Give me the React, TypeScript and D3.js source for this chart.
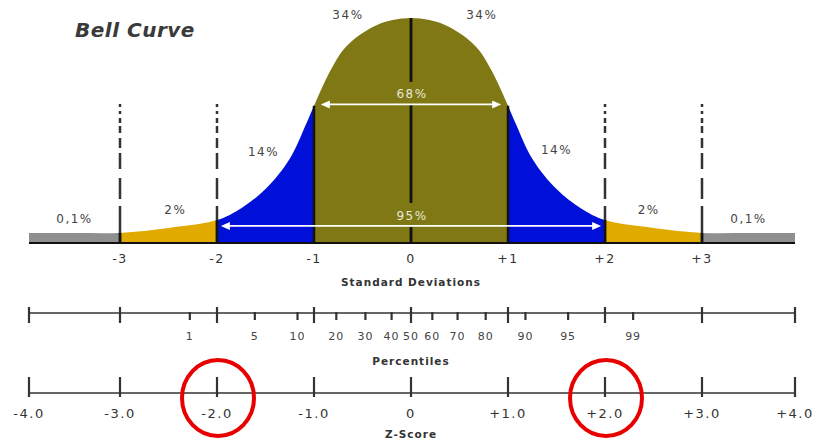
import React from "react";
import * as d3 from "d3";

// Bell curve outline (z, height as % of peak)
const curveZ = [-4, -3.5, -3, -2.5, -2, -1.75, -1.5, -1.25, -1.08, -1, -0.89, -0.8, -0.7, -0.53, -0.35, -0.19, 0, 0.19, 0.35, 0.53, 0.7, 0.8, 0.89, 1, 1.08, 1.25, 1.5, 1.75, 2, 2.5, 3, 3.5, 4];
const curveH = [4.4, 4.4, 4.5, 6.7, 10.2, 15.5, 24, 37.5, 53, 61, 71.6, 79, 85.8, 92.4, 96.9, 99.1, 100, 99.1, 96.9, 92.4, 85.8, 79, 71.6, 61, 53, 37.5, 24, 15.5, 10.2, 6.7, 4.5, 4.4, 4.4];

// Regions
const regionFrom = [-4, -3, -2, -1, 1, 2, 3];
const regionTo = [-3, -2, -1, 1, 2, 3, 4];
const regionColor = ["#8f8f8f", "#e0aa00", "#0010d8", "#7f7814", "#0010d8", "#e0aa00", "#8f8f8f"];

// Percent labels
const pctLabels = ["0,1%", "2%", "14%", "34%", "34%", "14%", "2%", "0,1%"];
const pctZ = [-3.5, -2.43, -1.52, -0.65, 0.73, 1.5, 2.45, 3.5];
const pctH = [11, 15, 41, 102, 102, 42, 15, 11];

// Axis ticks
const zTicks = [-4, -3, -2, -1, 0, 1, 2, 3, 4];
const sdZ = [-3, -2, -1, 0, 1, 2, 3];
const sdLabels = ["-3", "-2", "-1", "0", "+1", "+2", "+3"];
const zScoreLabels = ["-4.0", "-3.0", "-2.0", "-1.0", "0", "+1.0", "+2.0", "+3.0", "+4.0"];
const percentileLabels = ["1", "5", "10", "20", "30", "40", "50", "60", "70", "80", "90", "95", "99"];
const percentileZ = [-2.28, -1.61, -1.17, -0.77, -0.47, -0.2, 0, 0.22, 0.48, 0.77, 1.18, 1.62, 2.29];

// Range arrows
const arrowLabels = ["68%", "95%"];
const arrowZ = [0.93, 1.96];
const arrowH = [61.6, 7.6];
const arrowLabelH = [66.5, 12.5];

// Highlighted z-scores
const circledZ = [-2, 2];

const W = 813;
const H = 441;
const FONT = "DejaVu Sans, Verdana, sans-serif";

export default function App() {
  const x = d3.scaleLinear().domain([-4, -3, 3, 4]).range([29, 120, 702, 795]);
  const y = d3.scaleLinear().domain([0, 100]).range([243, 18]);
  const pts = curveZ.map((z, i) => [z, curveH[i]] as [number, number]);
  const area = d3
    .area<[number, number]>()
    .x((d) => x(d[0]))
    .y0(y(0))
    .y1((d) => y(d[1]))
    .curve(d3.curveCatmullRom.alpha(0.5));
  const areaPath = area(pts) || "";
  const hAt = (z: number) => {
    const i = curveZ.indexOf(z);
    return curveH[i];
  };

  const pAxisY = 313;
  const zAxisY = 393;

  const arrowHead = (tipX: number, yy: number, dir: number) =>
    `M${tipX},${yy} L${tipX + dir * 9},${yy - 4} L${tipX + dir * 9},${yy + 4} Z`;

  return (
    <svg
      width={W}
      height={H}
      style={{ position: "absolute", left: 0, top: 0, background: "#fff" }}
      fontFamily={FONT}
    >
      <defs>
        {regionFrom.map((f, i) => (
          <clipPath id={`reg${i}`} key={i}>
            <rect x={x(f)} y={0} width={x(regionTo[i]) - x(f)} height={H} />
          </clipPath>
        ))}
      </defs>

      {/* Title */}
      <text x={75} y={37} fontSize={20} fontWeight="bold" fontStyle="italic" fill="#3a3a3a" letterSpacing={0.5}>
        Bell Curve
      </text>

      {/* Coloured regions */}
      {regionFrom.map((f, i) => (
        <path key={i} d={areaPath} fill={regionColor[i]} clipPath={`url(#reg${i})`} />
      ))}

      {/* Baseline */}
      <line x1={x(-4)} x2={x(4)} y1={y(0)} y2={y(0)} stroke="#111" strokeWidth={2.2} />

      {/* ±1 solid boundaries */}
      {[-1, 1].map((z) => (
        <line key={z} x1={x(z)} x2={x(z)} y1={y(hAt(z))} y2={y(0)} stroke="#111" strokeWidth={2.5} />
      ))}

      {/* ±2, ±3 dashed boundaries */}
      {[-3, -2, 2, 3].map((z) => (
        <g key={z}>
          <line
            x1={x(z)}
            x2={x(z)}
            y1={104}
            y2={y(0)}
            stroke="#333"
            strokeWidth={2.5}
            strokeDasharray="3,4,3,4,5,3,7,5,10,5,16,9,21,7,200"
          />
          <line x1={x(z)} x2={x(z)} y1={y(hAt(z))} y2={y(0)} stroke="#111" strokeWidth={2.5} />
        </g>
      ))}

      {/* Centre line with gaps for labels */}
      {[
        [100, 71.6],
        [61.3, 17.8],
        [7.1, 0],
      ].map((s, i) => (
        <line key={i} x1={x(0)} x2={x(0)} y1={y(s[0])} y2={y(s[1])} stroke="#111" strokeWidth={2.8} />
      ))}

      {/* Range arrows */}
      {arrowZ.map((a, i) => {
        const yy = y(arrowH[i]);
        const x1 = x(-a);
        const x2 = x(a);
        return (
          <g key={i}>
            <line x1={x1 + 6} x2={x2 - 6} y1={yy} y2={yy} stroke="#fff" strokeWidth={1.6} />
            <path d={arrowHead(x1, yy, 1)} fill="#fff" />
            <path d={arrowHead(x2, yy, -1)} fill="#fff" />
            <text x={x(0) + 1} y={y(arrowLabelH[i]) + 5} fontSize={12} fill="#e8e8d8" textAnchor="middle" letterSpacing={1.5}>
              {arrowLabels[i]}
            </text>
          </g>
        );
      })}

      {/* Percent labels */}
      {pctLabels.map((t, i) => (
        <text key={i} x={x(pctZ[i])} y={y(pctH[i]) + 5} fontSize={12} fill="#444" textAnchor="middle" letterSpacing={1.5}>
          {t}
        </text>
      ))}

      {/* SD labels */}
      {sdZ.map((z, i) => (
        <text key={i} x={x(z)} y={263} fontSize={12.5} fill="#333" textAnchor="middle" letterSpacing={1.5}>
          {sdLabels[i]}
        </text>
      ))}
      <text x={x(0)} y={286} fontSize={10.5} fontWeight="bold" fill="#333" textAnchor="middle" letterSpacing={1}>
        Standard Deviations
      </text>

      {/* Percentile axis */}
      <line x1={x(-4)} x2={x(4)} y1={pAxisY} y2={pAxisY} stroke="#333" strokeWidth={1.6} />
      {zTicks.map((z) => (
        <line key={z} x1={x(z)} x2={x(z)} y1={pAxisY - 6} y2={pAxisY + 10} stroke="#333" strokeWidth={2.2} />
      ))}
      {percentileZ.map((z, i) =>
        z === 0 ? null : (
          <line key={i} x1={x(z)} x2={x(z)} y1={pAxisY - 1} y2={pAxisY + 7} stroke="#333" strokeWidth={2.2} />
        )
      )}
      {percentileLabels.map((t, i) => (
        <text key={i} x={x(percentileZ[i])} y={340} fontSize={11} fill="#444" textAnchor="middle" letterSpacing={1}>
          {t}
        </text>
      ))}
      <text x={x(0)} y={365} fontSize={10.5} fontWeight="bold" fill="#333" textAnchor="middle" letterSpacing={1}>
        Percentiles
      </text>

      {/* Z-score axis */}
      <line x1={x(-4)} x2={x(4)} y1={zAxisY} y2={zAxisY} stroke="#333" strokeWidth={1.6} />
      {zTicks.map((z) => (
        <line key={z} x1={x(z)} x2={x(z)} y1={zAxisY - 16} y2={zAxisY + 4} stroke="#333" strokeWidth={2.2} />
      ))}
      {zTicks.map((z, i) => (
        <text key={i} x={x(z)} y={418} fontSize={13} fill="#333" textAnchor="middle" letterSpacing={1.5}>
          {zScoreLabels[i]}
        </text>
      ))}
      <text x={x(0)} y={438} fontSize={10.5} fontWeight="bold" fill="#333" textAnchor="middle" letterSpacing={1}>
        Z-Score
      </text>

      {/* Red circles */}
      {circledZ.map((z) => (
        <ellipse key={z} cx={x(z) + 1} cy={398} rx={36} ry={38} fill="none" stroke="#e80000" strokeWidth={4} />
      ))}
    </svg>
  );
}
